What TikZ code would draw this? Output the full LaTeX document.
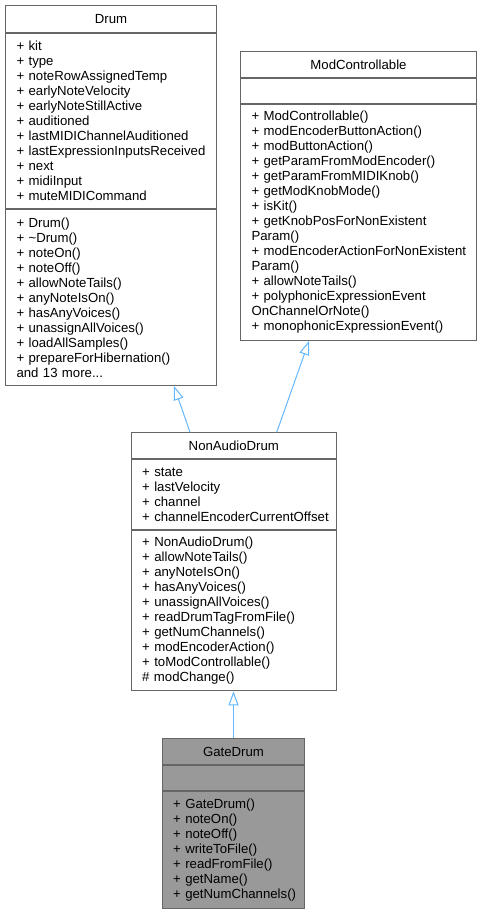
\documentclass[tikz,border=0pt]{standalone}
\usepackage{fontspec}
\setmainfont{Liberation Sans}
\usetikzlibrary{arrows.meta}
\definecolor{edgec}{HTML}{63B8FF}
\definecolor{bord}{HTML}{666666}
\definecolor{gfill}{HTML}{999999}
\newcommand\nohyphx{\hyphenpenalty=10000\relax\exhyphenpenalty=10000\relax\hbadness=10000\relax\hfuzz=100pt\relax}
\tikzset{
  part/.style={draw=bord, line width=1pt, rectangle, anchor=north west,
    inner xsep=11pt, inner ysep=0pt,
    font=\fontsize{13.2}{15}\selectfont, execute at begin node=\nohyphx},
  lpart/.style={part, align=left},
  tpart/.style={part, align=center},
  inh/.style={draw=edgec, line width=1pt, -{Triangle[open, length=14pt, width=10pt]}},
}
\begin{document}
\begin{tikzpicture}[x=1pt,y=-1pt]
\useasboundingbox (0,0) rectangle (480,912);
% Drum
\node[tpart, minimum width=211pt, text width=189pt, minimum height=27pt] (drumT) at (5,5) {Drum};
\node[lpart, minimum width=211pt, text width=189pt, minimum height=175pt] (drumA) at (drumT.south west) {+~kit\\+~type\\+~noteRowAssignedTemp\\+~earlyNoteVelocity\\+~earlyNoteStillActive\\+~auditioned\\+~lastMIDIChannelAuditioned\\+~lastExpressionInputsReceived\\+~next\\+~midiInput\\+~muteMIDICommand};
\node[lpart, minimum width=211pt, text width=189pt, minimum height=176pt] (drumM) at (drumA.south west) {+~Drum()\\+~\textasciitilde Drum()\\+~noteOn()\\+~noteOff()\\+~allowNoteTails()\\+~anyNoteIsOn()\\+~hasAnyVoices()\\+~unassignAllVoices()\\+~loadAllSamples()\\+~prepareForHibernation()\\and 13 more...};
% ModControllable
\node[tpart, minimum width=236pt, text width=214pt, minimum height=26pt] (modT) at (240,51) {ModControllable};
\node[lpart, minimum width=236pt, text width=214pt, minimum height=25pt] (modA) at (modT.south west) {};
\node[lpart, minimum width=236pt, text width=214pt, minimum height=236pt] (modM) at (modA.south west) {+~ModControllable()\\+~modEncoderButtonAction()\\+~modButtonAction()\\+~getParamFromModEncoder()\\+~getParamFromMIDIKnob()\\+~getModKnobMode()\\+~isKit()\\+~getKnobPosForNonExistent\\Param()\\+~modEncoderActionForNonExistent\\Param()\\+~allowNoteTails()\\+~polyphonicExpressionEvent\\OnChannelOrNote()\\+~monophonicExpressionEvent()};
% NonAudioDrum
\node[tpart, minimum width=205.3pt, text width=183.3pt, minimum height=25.4pt] (nadT) at (130.7,432.3) {NonAudioDrum};
\node[lpart, minimum width=205.3pt, text width=183.3pt, minimum height=70.6pt] (nadA) at (nadT.south west) {+~state\\+~lastVelocity\\+~channel\\+~channelEncoderCurrentOffset};
\node[lpart, minimum width=205.3pt, text width=183.3pt, minimum height=160pt] (nadM) at (nadA.south west) {+~NonAudioDrum()\\+~allowNoteTails()\\+~anyNoteIsOn()\\+~hasAnyVoices()\\+~unassignAllVoices()\\+~readDrumTagFromFile()\\+~getNumChannels()\\+~modEncoderAction()\\+~toModControllable()\\\#~modChange()};
% GateDrum
\node[tpart, fill=gfill, minimum width=142.6pt, text width=120.6pt, minimum height=26pt] (gateT) at (161.7,738.3) {GateDrum};
\node[lpart, fill=gfill, minimum width=142.6pt, text width=120.6pt, minimum height=25pt] (gateA) at (gateT.south west) {};
\node[lpart, fill=gfill, minimum width=142.6pt, text width=120.6pt, minimum height=116.7pt] (gateM) at (gateA.south west) {+~GateDrum()\\+~noteOn()\\+~noteOff()\\+~writeToFile()\\+~readFromFile()\\+~getName()\\+~getNumChannels()};
% inheritance
\draw[inh] ([xshift=59.3pt]nadT.north west) -- ([xshift=169pt]drumM.south west);
\draw[inh] ([xshift=146pt]nadT.north west) -- ([xshift=69pt]modM.south west);
\draw[inh] (gateT.north) -- (gateT.north |- nadM.south);
\end{tikzpicture}
\end{document}
